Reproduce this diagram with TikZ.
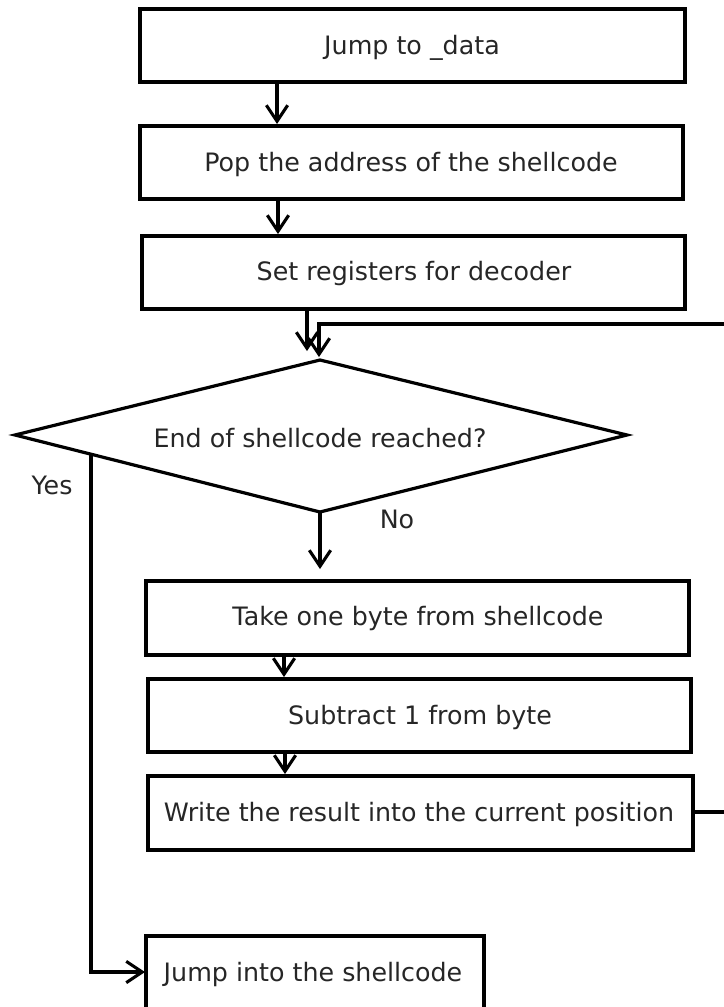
\documentclass[tikz,border=0pt]{standalone}
\usepackage{fontspec}
\setmainfont{DejaVu Sans}
\usetikzlibrary{arrows.meta}
\begin{document}
\begin{tikzpicture}[x=0.75pt,y=-0.75pt,
  line width=2.4pt,
  stepbox/.style={draw=black,line width=2.4pt,inner sep=0pt},
  lbl/.style={text=black!85,font=\fontsize{19}{22}\selectfont,inner sep=0pt,yshift=-1.5pt},
  flow/.style={-{Straight Barb[length=12pt,width=16pt,line width=2.3pt]}},
]
\useasboundingbox (0,0) rectangle (724,1007);
% process boxes
\draw[stepbox] (140,9) rectangle (685,82);
\node[lbl] (b1) at (412,46) {Jump to \_data};
\draw[stepbox] (140,126) rectangle (683,199);
\node[lbl] (b2) at (411,163) {Pop the address of the shellcode};
\draw[stepbox] (142,236) rectangle (685,309);
\node[lbl] (b3) at (414,272) {Set registers for decoder};
\draw[stepbox] (146,581) rectangle (689,655);
\node[lbl] (b4) at (418,617) {Take one byte from shellcode};
\draw[stepbox] (148,679) rectangle (691,752);
\node[lbl] (b5) at (420,716) {Subtract 1 from byte};
\draw[stepbox] (148,776) rectangle (693,850);
\node[lbl] (b6) at (419,813) {Write the result into the current position};
\draw[stepbox] (146,936) rectangle (484,1010);
\node[lbl] (b7) at (313,972) {Jump into the shellcode};
% decision
\coordinate (dl) at (15,435);
\coordinate (dt) at (320,360);
\coordinate (dr) at (627,435);
\coordinate (db) at (320,512);
\draw[line width=2.4pt,line join=miter] (dl) -- (dt) -- (dr) -- (db) -- cycle;
\node[lbl] (d) at (320,436) {End of shellcode reached?};
\node[lbl] (yes) at (52,483) {Yes};
\node[lbl] (no) at (397,517) {No};
% connectors
\coordinate (a1s) at (277,82);  \coordinate (a1e) at (277,124);
\coordinate (a2s) at (278,199); \coordinate (a2e) at (278,234);
\coordinate (a3s) at (307,309); \coordinate (a3e) at (307,351);
\coordinate (a4e) at (320,569);
\coordinate (a5s) at (284,655); \coordinate (a5e) at (284,677);
\coordinate (a6s) at (285,752); \coordinate (a6e) at (285,774);
\draw[flow] (a1s) -- (a1e);
\draw[flow] (a2s) -- (a2e);
\draw[flow] (a3s) -- (a3e);
\draw[flow] (db) -- (a4e);
\draw[flow] (a5s) -- (a5e);
\draw[flow] (a6s) -- (a6e);
% loop back to the decision
\coordinate (l1) at (693,812);
\coordinate (l2) at (740,812);
\coordinate (l3) at (740,324);
\coordinate (l4) at (319,324);
\coordinate (l5) at (319,357);
\draw[flow] (l1) -- (l2) -- (l3) -- (l4) -- (l5);
% exit branch
\coordinate (y1) at (91,454);
\coordinate (y2) at (91,972);
\coordinate (y3) at (145,972);
\draw[flow] (y1) -- (y2) -- (y3);
\end{tikzpicture}
\end{document}
